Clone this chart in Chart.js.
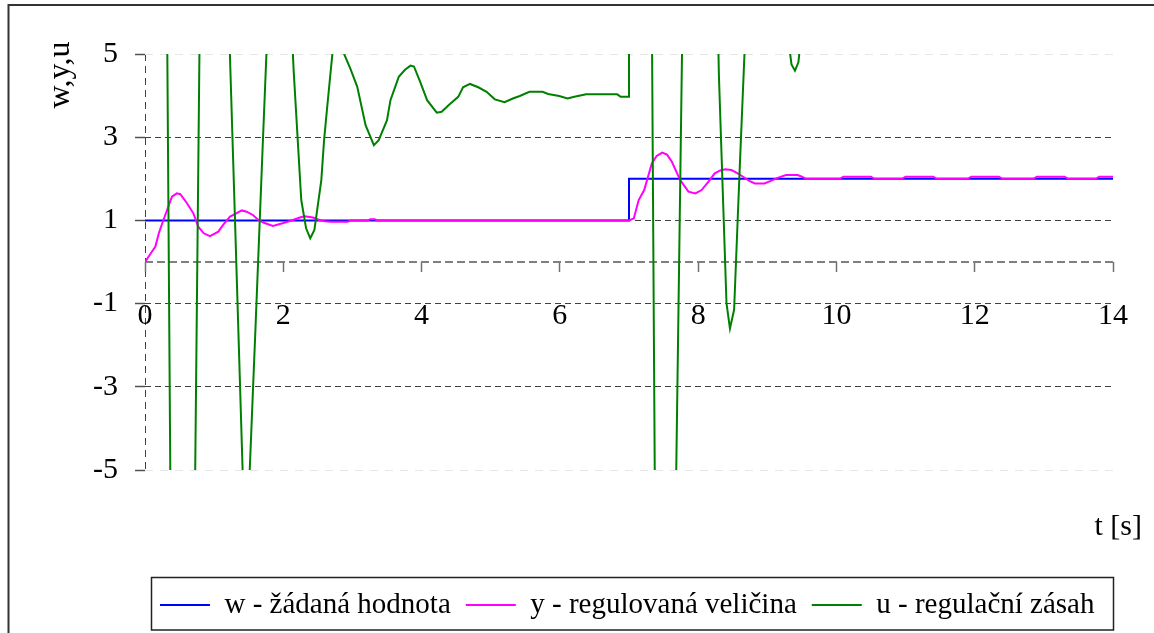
<!DOCTYPE html>
<html>
<head>
<meta charset="utf-8">
<script src="https://cdn.jsdelivr.net/npm/chart.js@4/dist/chart.umd.min.js"></script>
<style>
  body { margin: 0; background: #fff; }
</style>
</head>
<body>
<canvas id="chart" width="1154" height="633"></canvas>
<script>
// axis ticks
var xTicks = [0, 2, 4, 6, 8, 10, 12, 14];
var xTickLabels = ["0", "2", "4", "6", "8", "10", "12", "14"];
var yTicks = [-5, -3, -1, 0, 1, 3, 5];
var yTickLabels = ["-5", "-3", "-1", "", "1", "3", "5"];

// w - setpoint
var tW = [0, 7, 7, 14];
var wVals = [1, 1, 2, 2];

// y - controlled variable
var tY = [0, 0.08, 0.15, 0.2, 0.26, 0.32, 0.39, 0.46, 0.51, 0.6, 0.7, 0.77, 0.85, 0.94, 1.06, 1.13, 1.23, 1.32, 1.4, 1.47, 1.56, 1.64, 1.71, 1.85, 1.99, 2.14, 2.24, 2.31, 2.43, 2.52, 2.6, 2.69, 2.93, 2.98, 3.22, 3.26, 3.32, 3.36,
  7.0, 7.07, 7.14, 7.22, 7.33, 7.4, 7.48, 7.55, 7.62, 7.74, 7.86, 7.96, 8.05, 8.15, 8.24, 8.32, 8.39, 8.48, 8.56, 8.65, 8.74, 8.82, 8.96, 9.05, 9.13, 9.27, 9.44, 9.5, 9.56,
  10.05, 10.1, 10.5, 10.55, 10.95, 11.0, 11.4, 11.45, 11.9, 11.95, 12.35, 12.4, 12.85, 12.9, 13.3, 13.35, 13.75, 13.8, 14];
var yVals = [0, 0.2, 0.37, 0.69, 0.98, 1.25, 1.57, 1.65, 1.63, 1.43, 1.17, 0.85, 0.69, 0.62, 0.73, 0.89, 1.09, 1.17, 1.24, 1.21, 1.13, 1.01, 0.95, 0.865, 0.93, 1.01, 1.07, 1.1, 1.07, 1.01, 0.98, 0.97, 0.97, 1.0, 1.0, 1.03, 1.03, 1.0,
  1.0, 1.05, 1.49, 1.73, 2.37, 2.55, 2.63, 2.58, 2.41, 1.97, 1.69, 1.65, 1.73, 1.93, 2.13, 2.2, 2.23, 2.21, 2.14, 2.05, 1.95, 1.89, 1.89, 1.95, 2.01, 2.09, 2.09, 2.05, 2.0,
  2.0, 2.05, 2.05, 2.0, 2.0, 2.05, 2.05, 2.0, 2.0, 2.05, 2.05, 2.0, 2.0, 2.05, 2.05, 2.0, 2.0, 2.05, 2.05];

// u - control action (runs far outside the plotted range)
var tU = [0, 0.1, 0.2, 0.3, 0.4, 0.5, 0.55, 0.6, 0.7, 0.8, 0.9, 1.0, 1.1, 1.2, 1.3, 1.42, 1.47, 1.5, 1.6, 1.7, 1.8, 1.95, 2.05, 2.15, 2.26, 2.33, 2.39, 2.45, 2.55, 2.59, 2.64, 2.71, 2.78, 2.84, 2.88, 2.97, 3.07, 3.19, 3.31, 3.38, 3.5, 3.55, 3.67, 3.76, 3.84, 3.89, 3.98, 4.08, 4.22, 4.29, 4.39, 4.53, 4.6, 4.7, 4.82, 4.94, 5.06, 5.2, 5.32, 5.42, 5.56, 5.75, 5.83, 5.99, 6.11, 6.21, 6.38, 6.83, 6.88, 7.0,
  7.0, 7.1, 7.2, 7.3, 7.4, 7.5, 7.55, 7.6, 7.7, 7.8, 7.9, 8.0, 8.1, 8.2, 8.3, 8.41, 8.46, 8.52, 8.6, 8.7, 8.8, 8.95, 9.1, 9.25, 9.3, 9.35, 9.4, 9.45, 9.5, 9.65, 9.8, 9.95, 10.1, 10.3, 10.5, 10.75, 11.2, 11.7, 12.2, 12.8, 13.4, 14];
var uVals = [40, 36, 26, 10.3, -12.9, -21, -22.5, -21, -9.3, 7.1, 16, 19, 16, 6.5, 1.1, -5.45, -5.65, -5.6, -1.5, 2.7, 6.8, 9.3, 8.2, 4.6, 1.49, 0.81, 0.57, 0.77, 1.97, 2.93, 3.81, 5.0, 5.7, 5.5, 5.0, 4.65, 4.21, 3.29, 2.81, 2.93, 3.41, 3.89, 4.45, 4.62, 4.72, 4.7, 4.33, 3.89, 3.59, 3.61, 3.77, 3.97, 4.2, 4.28, 4.2, 4.09, 3.91, 3.84, 3.93, 3.99, 4.09, 4.09, 4.04, 3.99, 3.93, 3.97, 4.03, 4.03, 3.97, 3.97,
  44, 40, 30, 14, -12.3, -18.5, -19, -15, -3, 9, 19, 23, 20, 13, 4.5, -0.99, -1.6, -1.15, 2.2, 6.2, 10, 13.5, 11, 7, 5.4, 4.75, 4.6, 4.8, 5.6, 8, 10, 9.5, 8, 6.8, 7.3, 8.7, 7.6, 8.3, 7.9, 8.05, 8, 8];

function pts(ts, vs) {
  var out = [];
  for (var i = 0; i < ts.length; i++) out.push({x: ts[i], y: vs[i]});
  return out;
}

var frame = {
  id: "frame",
  beforeDraw: function(chart) {
    var c = chart.ctx;
    c.save();
    c.fillStyle = "#fff";
    c.fillRect(0, 0, chart.width, chart.height);
    c.strokeStyle = "#333";
    c.lineWidth = 2;
    c.strokeRect(8.5, 5, 1400, 1000);
    c.restore();
  },
  afterDraw: function(chart) {
    var c = chart.ctx;
    c.save();
    // legend box
    c.strokeStyle = "#222";
    c.lineWidth = 1.5;
    c.strokeRect(151.5, 577.5, 962, 52.5);
    // axis titles
    c.fillStyle = "#000";
    c.font = "32px 'Liberation Serif'";
    c.textAlign = "center";
    c.textBaseline = "alphabetic";
    c.translate(69, 75);
    c.rotate(-Math.PI / 2);
    c.fillText("w,y,u", 0, 0);
    c.restore();
    c.save();
    c.fillStyle = "#000";
    c.font = "30px 'Liberation Serif'";
    c.textAlign = "right";
    c.fillText("t [s]", 1142, 527);
    c.restore();
  }
};

Chart.defaults.font.family = "'Liberation Serif', 'Times New Roman', serif";
Chart.defaults.color = "#000";

new Chart(document.getElementById("chart"), {
  type: "line",
  data: {
    datasets: [{
        label: "w - žádaná hodnota",
        data: pts(tW, wVals),
        borderColor: "#0000ff",
        borderWidth: 2,
        order: 3
      }, {
        label: "y - regulovaná veličina",
        data: pts(tY, yVals),
        borderColor: "#ff00ff",
        borderWidth: 2,
        order: 2
      }, {
        label: "u - regulační zásah",
        data: pts(tU, uVals),
        borderColor: "#008000",
        borderWidth: 2,
        order: 1
      }
    ]
  },
  options: {
    responsive: false,
    animation: false,
    events: [],
    elements: { point: { radius: 0 }, line: { tension: 0 } },
    layout: { padding: { left: 80, right: 10, top: 54, bottom: 3.5 } },
    scales: {
      x: {
        type: "linear",
        axis: "x",
        position: { y: 0 },
        min: 0,
        max: 14,
        afterBuildTicks: function(s) { s.ticks = xTicks.map(function(v) { return {value: v}; }); },
        afterFit: function(s) { s.height = 0; },
        ticks: {
          autoSkip: false,
          maxRotation: 0,
          padding: 26,
          font: { size: 30 },
          callback: function(v, i) { return xTickLabels[i]; }
        },
        grid: {
          color: function(ctx) { return ctx.tick && ctx.tick.value === 0 ? "#404040" : "rgba(0,0,0,0)"; },
          lineWidth: 1,
          tickLength: 10,
          tickColor: "#707070",
          tickWidth: 1.5
        },
        border: {
          display: false,
          dash: function(ctx) { return ctx.tick && ctx.tick.value === 0 ? [7, 5] : []; }
        }
      },
      y: {
        type: "linear",
        axis: "y",
        position: "left",
        min: -5,
        max: 5,
        afterBuildTicks: function(s) { s.ticks = yTicks.map(function(v) { return {value: v}; }); },
        afterFit: function(s) { s.width = 65; },
        ticks: {
          autoSkip: false,
          padding: 17,
          font: { size: 30 },
          callback: function(v, i) { return yTickLabels[i]; }
        },
        grid: {
          color: function(ctx) {
            if (!ctx.tick) return "#404040";
            var v = ctx.tick.value;
            if (v === 0) return "#808080";
            if (Math.abs(v) === 5) return "#e6e6e6";
            return "#404040";
          },
          lineWidth: function(ctx) { return ctx.tick && ctx.tick.value === 0 ? 2 : 1; },
          tickLength: 10,
          tickColor: function(ctx) { return ctx.tick && ctx.tick.value === 0 ? "rgba(0,0,0,0)" : "#505050"; },
          tickWidth: 1.5
        },
        border: {
          display: false,
          dash: function(ctx) {
            if (!ctx.tick) return [];
            var v = ctx.tick.value;
            if (v === 0) return [8, 4];
            if (Math.abs(v) === 5) return [8, 7];
            return [6, 4];
          }
        }
      },
      xPad: {
        type: "linear",
        axis: "x",
        position: "bottom",
        grid: { display: false },
        ticks: { display: false },
        border: { display: false },
        afterFit: function(s) { s.height = 105.5; }
      },
      yR: {
        type: "linear",
        axis: "y",
        position: "right",
        grid: { display: false },
        ticks: { display: false },
        border: { display: false },
        afterFit: function(s) { s.width = 25; }
      }
    },
    plugins: {
      tooltip: { enabled: false },
      legend: {
        position: "bottom",
        align: "start",
        fullSize: false,
        labels: {
          usePointStyle: true,
          pointStyle: "line",
          pointStyleWidth: 50,
          padding: 15,
          color: "#000",
          font: { size: 29 },
          sort: function(a, b) { return a.datasetIndex - b.datasetIndex; }
        }
      }
    }
  },
  plugins: [frame]
});
</script>
</body>
</html>
